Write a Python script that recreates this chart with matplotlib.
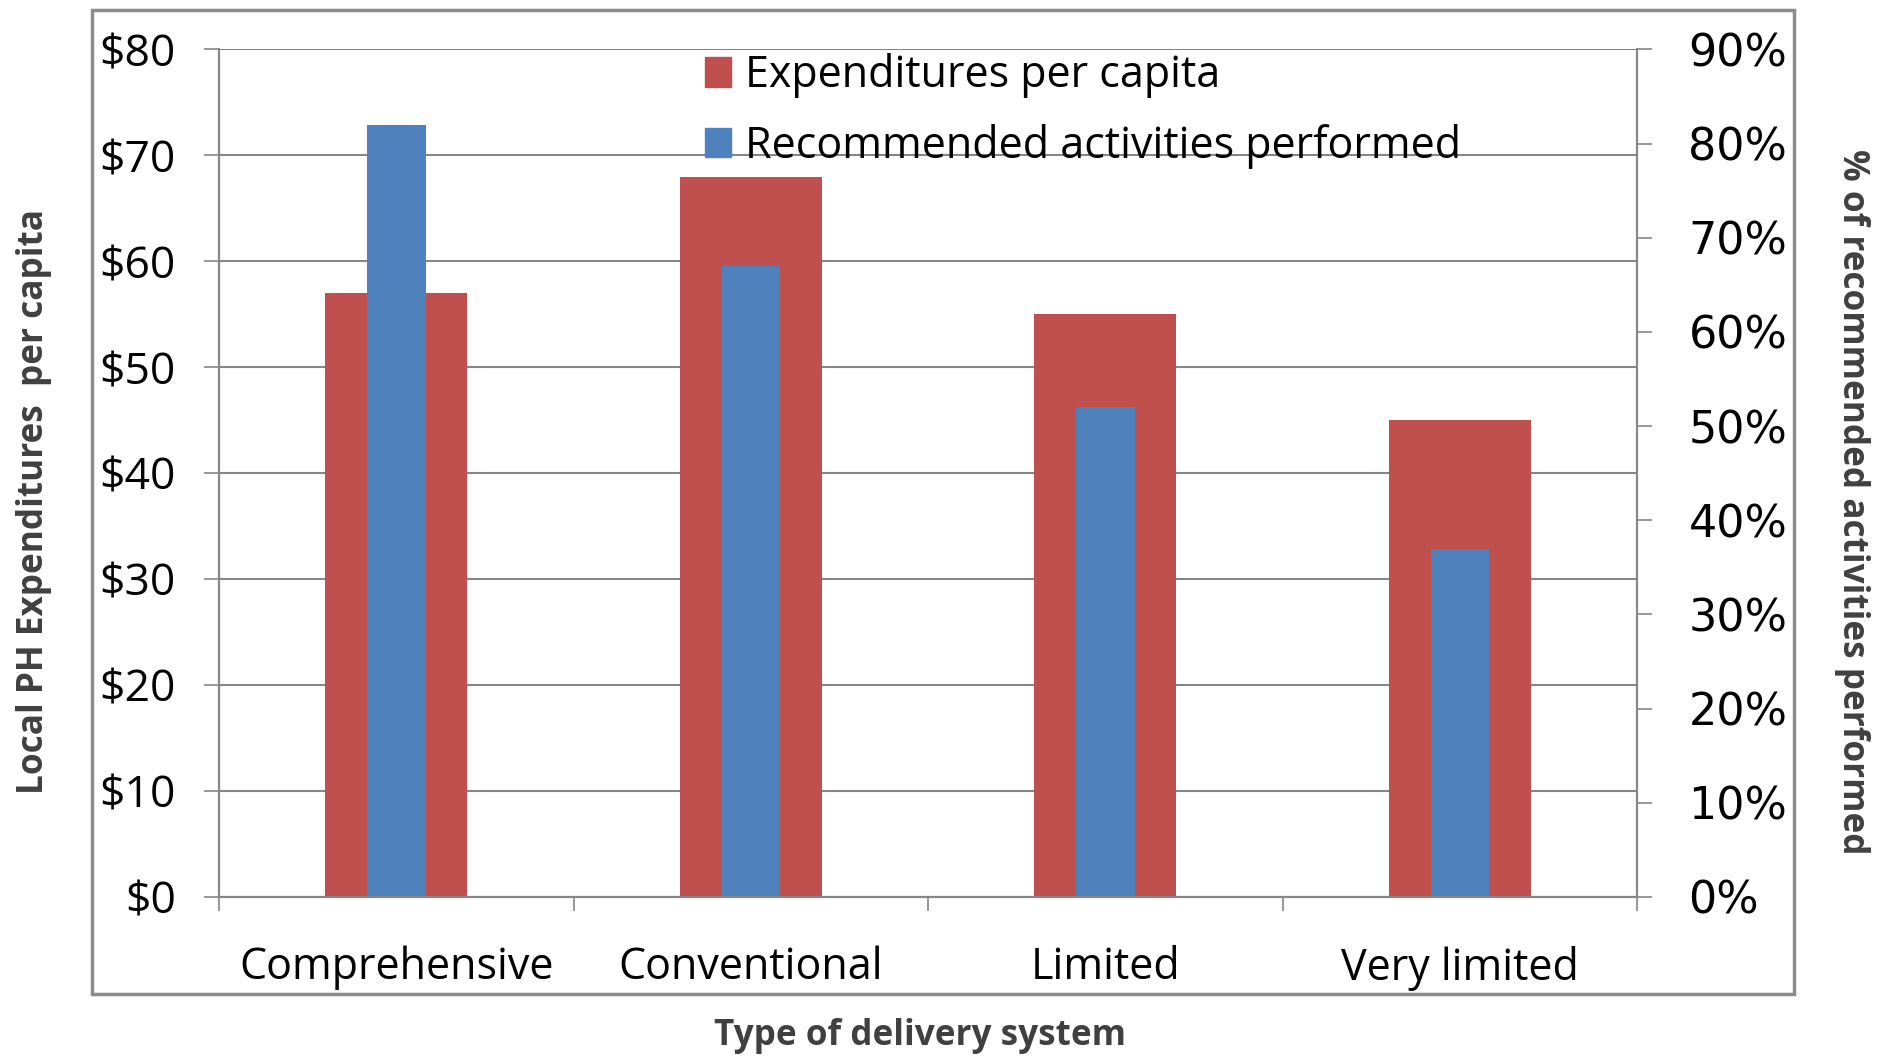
import matplotlib
matplotlib.use("Agg")
import matplotlib.pyplot as plt
import numpy as np
from matplotlib.patches import Rectangle, Patch

# data
categories = ["Comprehensive", "Conventional", "Limited", "Very limited"]
spend_per_capita = [57, 68, 55, 45]          # left axis, dollars
pct_recommended = [0.82, 0.67, 0.52, 0.37]   # right axis, share
dollar_ticks = [0, 10, 20, 30, 40, 50, 60, 70, 80]
pct_ticks = [0, 0.1, 0.2, 0.3, 0.4, 0.5, 0.6, 0.7, 0.8, 0.9]

RED = "#C0504D"
BLUE = "#4F81BD"
GRID = "#868686"
LABEL = "#404040"
axis_label_font = dict(family=["Open Sans", "DejaVu Sans"], weight="bold", fontsize=25.3, color=LABEL)

fig = plt.figure(figsize=(18.8, 10.57), dpi=100)
ax = fig.add_axes([0.1165, 0.1514, 0.7543, 0.8018])
ax2 = ax.twinx()

x = np.arange(len(categories))
ax.bar(x, spend_per_capita, width=0.4, color=RED, label="Expenditures per capita", zorder=2)
ax2.bar(x, pct_recommended, width=0.165, color=BLUE, label="Recommended activities performed", zorder=2)

ax.set_xlim(-0.5, len(categories) - 0.5)
ax.set_ylim(0, 80)
ax2.set_ylim(0, 0.9)

# gridlines on the dollar axis, behind the bars
ax.set_axisbelow(True)
ax.set_yticks(dollar_ticks)
ax.set_yticklabels([f"${v}" for v in dollar_ticks], family="Open Sans", fontsize=32)
ax.yaxis.grid(True, color=GRID, lw=1.5)
ax2.set_yticks(pct_ticks)
ax2.set_yticklabels([f"{int(round(v * 100))}%" for v in pct_ticks], family="DejaVu Sans", fontsize=32)

# category boundaries as major ticks, names as minor tick labels
ax.set_xticks(np.arange(-0.5, len(categories), 1.0))
ax.set_xticklabels([])
ax.set_xticks(x, minor=True)
ax.set_xticklabels(categories, minor=True, family="Open Sans", fontsize=31)
ax.tick_params(axis="x", which="major", direction="out", length=10, width=1.2, color=GRID)
ax.tick_params(axis="x", which="minor", length=0, pad=35)
ax.tick_params(axis="y", direction="out", length=11, width=1.2, color=GRID, pad=20)
ax2.tick_params(axis="y", direction="out", length=11, width=1.2, color=GRID, pad=26)

for a in (ax, ax2):
    a.spines["top"].set_visible(False)
    for s in ("left", "right", "bottom"):
        a.spines[s].set_color(GRID)
        a.spines[s].set_linewidth(1.5)
ax2.patch.set_visible(False)

handles = [Patch(color=RED), Patch(color=BLUE)]
fig.legend(handles, ["Expenditures per capita", "Recommended activities performed"],
           loc="upper left", bbox_to_anchor=(705 / 1880, 1 - 53 / 1057),
           frameon=False, prop=dict(family="Open Sans", size=31),
           handlelength=0.6, handleheight=0.67, handletextpad=0.33,
           labelspacing=0.6, borderpad=0, borderaxespad=0)

fig.text(34 / 1880, 1 - 502 / 1057, "Local PH Expenditures  per capita", rotation=90,
         ha="center", va="center", **axis_label_font)
fig.text(1852 / 1880, 1 - 502 / 1057, "% of recommended activities performed", rotation=270,
         ha="center", va="center", **axis_label_font)
fig.text(920 / 1880, 1 - 1036 / 1057, "Type of delivery system",
         ha="center", va="center", **axis_label_font)

# outer chart frame
fig.patches.append(Rectangle((92 / 1880, 1 - 994 / 1057), (1794 - 92) / 1880, (994 - 10) / 1057,
                             transform=fig.transFigure, fill=False, ec="#8c8c8c", lw=2.5))

fig.savefig("out.png", dpi=100)
